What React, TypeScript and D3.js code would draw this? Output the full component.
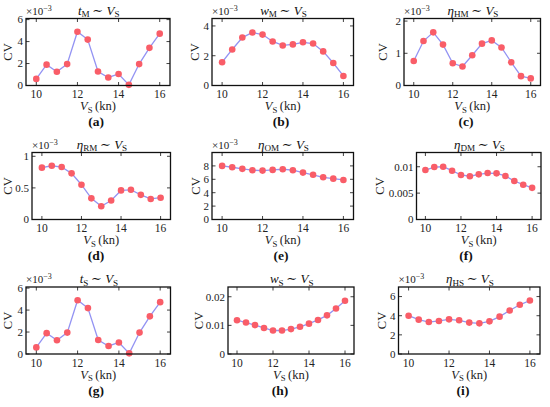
import React from 'react';
import * as d3 from 'd3';

const speeds = [10, 10.5, 11, 11.5, 12, 12.5, 13, 13.5, 14, 14.5, 15, 15.5, 16];

// values in units of 1e-3 unless noted
const tM = [0.6, 1.9, 1.25, 1.95, 4.9, 4.18, 1.27, 0.73, 1.05, 0.06, 1.95, 3.43, 4.72];
const wM = [1.56, 2.42, 3.22, 3.56, 3.42, 2.96, 2.69, 2.76, 2.9, 2.82, 2.29, 1.51, 0.64];
const etaHM = [0.76, 1.38, 1.65, 1.27, 0.69, 0.59, 0.94, 1.3, 1.4, 1.18, 0.72, 0.29, 0.22];
const etaRM = [0.82, 0.85, 0.83, 0.73, 0.55, 0.335, 0.21, 0.3, 0.46, 0.47, 0.39, 0.325, 0.345];
const etaOM = [8.0, 7.8, 7.56, 7.36, 7.3, 7.4, 7.5, 7.36, 7.0, 6.67, 6.3, 6.1, 5.9];
// plain values
const etaDM = [0.00938, 0.00994, 0.01, 0.00925, 0.00844, 0.0082, 0.00856, 0.0088, 0.00875, 0.00825, 0.0073, 0.0066, 0.006];
const tS = [0.6, 1.9, 1.25, 1.95, 4.9, 4.18, 1.27, 0.73, 1.05, 0.06, 1.95, 3.43, 4.72];
const wS = [0.0118, 0.011, 0.0101, 0.0091, 0.0082, 0.0082, 0.0087, 0.0095, 0.0106, 0.0119, 0.0135, 0.0159, 0.0186];
const etaHS = [4.0, 3.59, 3.34, 3.45, 3.62, 3.52, 3.28, 3.2, 3.41, 3.9, 4.55, 5.14, 5.59];

const xTicks = [10, 12, 14, 16];

type Panel = {
  sym: string;
  sub: string;
  values: number[];
  yMax: number;
  yTicks: number[];
  exp: boolean;
  caption: string;
  left: number;
  right: number;
  bottom: number;
  cvX: number;
  capX: number;
};

const rowBottoms = [85.5, 219.5, 354];
const frameH = 67;

const panels: Panel[] = [
  { sym: 't', sub: 'M', values: tM, yMax: 6.1, yTicks: [0, 2, 4, 6], exp: true, caption: 'a', left: 26, right: 170, bottom: rowBottoms[0], cvX: 8, capX: 96 },
  { sym: 'w', sub: 'M', values: wM, yMax: 4.5, yTicks: [0, 2, 4], exp: true, caption: 'b', left: 212, right: 353.5, bottom: rowBottoms[0], cvX: 195, capX: 281 },
  { sym: 'η', sub: 'HM', values: etaHM, yMax: 2.08, yTicks: [0, 1, 2], exp: true, caption: 'c', left: 404, right: 540.5, bottom: rowBottoms[0], cvX: 383, capX: 466 },
  { sym: 'η', sub: 'RM', values: etaRM, yMax: 1.06, yTicks: [0, 0.5, 1], exp: true, caption: 'd', left: 32, right: 170.5, bottom: rowBottoms[1], cvX: 8, capX: 96 },
  { sym: 'η', sub: 'OM', values: etaOM, yMax: 10, yTicks: [0, 2, 4, 6, 8], exp: true, caption: 'e', left: 212, right: 353.5, bottom: rowBottoms[1], cvX: 196, capX: 281 },
  { sym: 'η', sub: 'DM', values: etaDM, yMax: 0.0127, yTicks: [0, 0.005, 0.01], exp: false, caption: 'f', left: 416.5, right: 541, bottom: rowBottoms[1], cvX: 380, capX: 466 },
  { sym: 't', sub: 'S', values: tS, yMax: 6.1, yTicks: [0, 2, 4, 6], exp: true, caption: 'g', left: 26, right: 170.5, bottom: rowBottoms[2], cvX: 8, capX: 96 },
  { sym: 'w', sub: 'S', values: wS, yMax: 0.0234, yTicks: [0, 0.01, 0.02], exp: false, caption: 'h', left: 228, right: 354, bottom: rowBottoms[2], cvX: 199, capX: 280 },
  { sym: 'η', sub: 'HS', values: etaHS, yMax: 7, yTicks: [0, 2, 4, 6], exp: true, caption: 'i', left: 398.5, right: 540, bottom: rowBottoms[2], cvX: 382, capX: 463 },
];

const font = "'Liberation Serif', 'DejaVu Serif', serif";
const lineColor = '#9393f3';
const dotColor = '#f95d68';

function Sub({ main, sub, size }: { main: string; sub: string; size: number }) {
  return (
    <>
      <tspan fontStyle="italic">{main}</tspan>
      <tspan fontSize={size * 0.7} dy={size * 0.22}>{sub}</tspan>
      <tspan dy={-size * 0.22}>{'\u2009'}</tspan>
    </>
  );
}

function ChartPanel({ p }: { p: Panel }) {
  const top = p.bottom - frameH;
  const x = d3.scaleLinear([9.5, 16.5], [p.left, p.right]);
  const y = d3.scaleLinear([0, p.yMax], [p.bottom, top]);
  const pts = speeds.map((s, i) => [s, p.values[i]] as [number, number]);
  const line = d3
    .line<[number, number]>()
    .x((d) => x(d[0]))
    .y((d) => y(d[1]));
  const cx = (p.left + p.right) / 2;
  const fmt = (v: number) => (v === 0 ? '0' : String(v));

  return (
    <g>
      <path d={line(pts) ?? ''} fill="none" stroke={lineColor} strokeWidth={1.3} />
      {pts.map((d, i) => (
        <circle key={i} cx={x(d[0])} cy={y(d[1])} r={3.3} fill={dotColor} />
      ))}
      <rect x={p.left} y={top} width={p.right - p.left} height={frameH} fill="none" stroke="#111" strokeWidth={1.3} />
      {xTicks.map((t) => (
        <g key={t}>
          <line x1={x(t)} x2={x(t)} y1={p.bottom} y2={p.bottom - 3.5} stroke="#111" strokeWidth={0.8} />
          <line x1={x(t)} x2={x(t)} y1={top} y2={top + 3.5} stroke="#111" strokeWidth={0.8} />
          <text x={x(t)} y={p.bottom + 12.5} fontSize={11.5} textAnchor="middle" fill="#222">{t}</text>
        </g>
      ))}
      {p.yTicks.map((t) => (
        <g key={t}>
          <line x1={p.left} x2={p.left + 3.5} y1={y(t)} y2={y(t)} stroke="#111" strokeWidth={0.8} />
          <line x1={p.right} x2={p.right - 3.5} y1={y(t)} y2={y(t)} stroke="#111" strokeWidth={0.8} />
          <text x={p.left - 3} y={y(t) + 3.8} fontSize={11} textAnchor="end" fill="#222">{fmt(t)}</text>
        </g>
      ))}
      {p.exp && (
        <text x={p.left} y={top - 4} fontSize={11} fill="#222">
          ×10<tspan fontSize={8} dy={-4}>−3</tspan>
        </text>
      )}
      <text x={cx + 2} y={top - 4} fontSize={13} textAnchor="middle" fill="#111">
        <Sub main={p.sym} sub={p.sub} size={13} />
        <tspan>{'∼ '}</tspan>
        <Sub main="V" sub="S" size={13} />
      </text>
      <text
        transform={`translate(${p.cvX + 4},${(top + p.bottom) / 2}) rotate(-90)`}
        fontSize={12.5}
        textAnchor="middle"
        fill="#222"
      >
        CV
      </text>
      <text x={cx} y={p.bottom + 24.5} fontSize={12.5} textAnchor="middle" fill="#222">
        <Sub main="V" sub="S" size={12.5} />
        <tspan>(kn)</tspan>
      </text>
      <text x={p.capX} y={p.bottom + 40.5} fontSize={13.5} fontWeight="bold" textAnchor="middle" fill="#111">
        ({p.caption})
      </text>
    </g>
  );
}

export default function App() {
  return (
    <svg
      width={550}
      height={407}
      style={{ position: 'absolute', left: 0, top: 0, background: '#fff', fontFamily: font }}
    >
      {panels.map((p) => (
        <ChartPanel key={p.caption} p={p} />
      ))}
    </svg>
  );
}
